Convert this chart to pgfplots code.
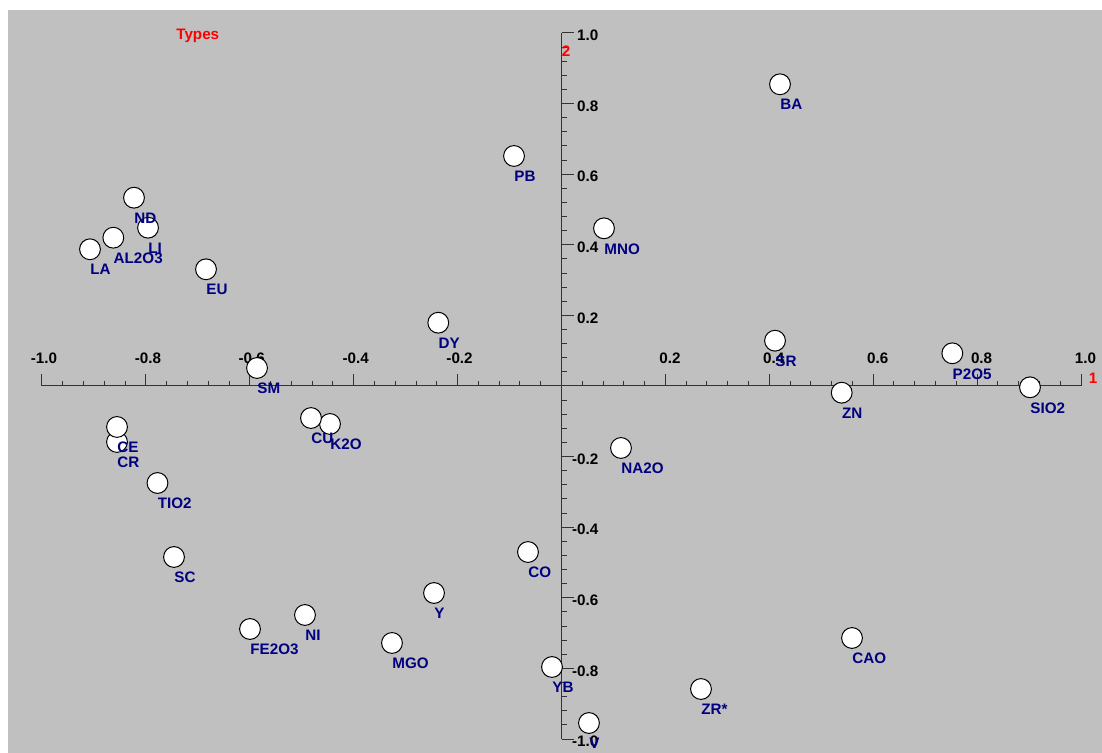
\documentclass[border=0pt]{standalone}
\usepackage{fontspec}
\setmainfont{Liberation Sans}
\usepackage{pgfplots}
\usepackage{pgfplotstable}
\pgfplotsset{compat=1.18}
\definecolor{bg}{RGB}{192,192,192}
\definecolor{lab}{RGB}{0,0,128}
\definecolor{axred}{RGB}{255,0,0}
\newcommand\lf{\fontsize{7.6}{9}\selectfont\bfseries}
\pgfplotstableread{
x y label
0.4206 0.8547 BA
-0.0914 0.6516 PB
0.0818 0.4467 MNO
-0.9076 0.3873 LA
-0.8627 0.4201 AL2O3
-0.7959 0.4484 LI
-0.8229 0.5334 ND
-0.6843 0.3306 EU
-0.2372 0.1793 DY
0.4110 0.1283 SR
0.7523 0.0926 P2O5
-0.5861 0.0510 SM
0.9018 -0.0037 SIO2
0.5394 -0.0190 ZN
-0.4456 -0.1076 K2O
-0.4822 -0.0907 CU
-0.8556 -0.1586 CR
-0.8556 -0.1161 CE
0.1145 -0.1756 NA2O
-0.7777 -0.2748 TIO2
-0.0645 -0.4703 CO
-0.7459 -0.4844 SC
-0.2454 -0.5864 Y
-0.4938 -0.6487 NI
-0.5996 -0.6884 FE2O3
-0.3263 -0.7280 MGO
0.5592 -0.7139 CAO
-0.0183 -0.7960 YB
0.2685 -0.8584 ZR*
0.0529 -0.9547 V
}\pts
\begin{document}
\begin{tikzpicture}
\begin{axis}[
  at={(0,0)}, anchor=origin,
  x=259.75pt, y=176.5pt,
  xmin=-1, xmax=1, ymin=-1, ymax=1,
  axis lines=middle,
  set layers,
  clip=false,
  axis line style={black!80, line width=0.5pt},
  every inner x axis line/.append style={-},
  every inner y axis line/.append style={-},
  tick align=inside,
  tick style={black!80, line width=0.5pt},
  major tick length=6pt, minor tick length=2.5pt,
  xtick={-1,-0.8,-0.6,-0.4,-0.2,0,0.2,0.4,0.6,0.8,1},
  ytick={-1,-0.8,-0.6,-0.4,-0.2,0,0.2,0.4,0.6,0.8,1},
  minor x tick num=4, minor y tick num=4,
  xticklabels={\llap{-}1.0,\llap{-}0.8,\llap{-}0.6,\llap{-}0.4,\llap{-}0.2,{},0.2,0.4,0.6,0.8,1.0},
  yticklabels={\llap{-}1.0,\llap{-}0.8,\llap{-}0.6,\llap{-}0.4,\llap{-}0.2,{},0.2,0.4,0.6,0.8,1.0},
  ticklabel style={font=\lf, text=black, inner sep=0pt},
  xticklabel style={anchor=base, xshift=2.25pt, yshift=11pt},
  yticklabel style={anchor=west, xshift=7.6pt, yshift=-1.25pt},
]
\begin{pgfonlayer}{axis background}
\fill[white] (axis cs:-1.08085,-1.03966) rectangle (axis cs:1.04042,1.09348);
\fill[bg] (axis cs:-1.06545,-1.03966) rectangle (axis cs:1.04042,1.06516);
\end{pgfonlayer}
\coordinate (bl) at (axis cs:-1.08085,-1.03966);
\coordinate (tr) at (axis cs:1.04042,1.09348);
\addplot[only marks, mark=*, mark size=5.2pt, mark options={fill=white, draw=black, line width=0.5pt}] table[x=x,y=y] {\pts};
\addplot[draw=none, mark=none, point meta=explicit symbolic, nodes near coords, nodes near coords style={anchor=base west, font=\lf, text=lab, inner sep=0pt, yshift=-12.85pt}] table[x=x, y=y, meta=label] {\pts};
\node[anchor=base west, inner sep=0pt, text=axred, font=\lf] at (axis cs:-0.7421,0.9824) {Types};
\node[anchor=west, inner sep=0pt, text=axred, font=\lf, xshift=3.75pt, yshift=4pt] at (axis cs:1,0) {1};
\node[anchor=north west, inner sep=0pt, text=axred, font=\lf, yshift=-6.2pt] at (axis cs:0,1) {2};
\end{axis}
\pgfresetboundingbox
\useasboundingbox (bl) rectangle (tr);
\end{tikzpicture}
\end{document}
